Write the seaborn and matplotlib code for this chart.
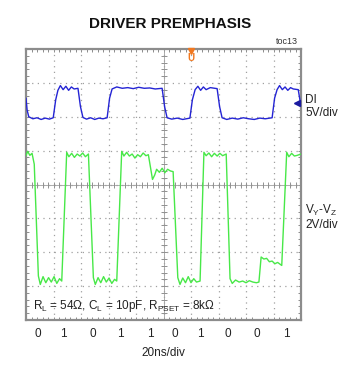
import numpy as np
import pandas as pd
import matplotlib
matplotlib.use("Agg")
import matplotlib.pyplot as plt
import seaborn as sns

sns.set_style("white")
plt.rcParams['font.family'] = ['Liberation Sans Narrow', 'Liberation Sans', 'DejaVu Sans']

# ---- data (time in divisions of 20 ns, amplitude in vertical divisions) ----
bits = ["0", "1", "0", "1", "1", "0", "1", "0", "0", "1"]
bit_pos = [0.44, 1.35, 2.44, 3.42, 4.51, 5.42, 6.33, 7.35, 8.4, 9.45]

di_t = [0.00, 0.04, 0.10, 0.25, 0.40, 0.55, 0.70, 0.85, 0.99,
        1.08, 1.16, 1.25, 1.35, 1.45, 1.55, 1.65, 1.75, 1.89,
        1.98, 2.07, 2.20, 2.35, 2.50, 2.65, 2.80, 2.95,
        3.04, 3.13, 3.30, 3.50, 3.70, 3.90, 4.10, 4.30, 4.50, 4.70, 4.95,
        5.04, 5.13, 5.30, 5.50, 5.70, 5.96,
        6.05, 6.15, 6.25, 6.35, 6.45, 6.55, 6.70, 6.95,
        7.04, 7.13, 7.30, 7.50, 7.70, 7.90, 8.10, 8.30, 8.50, 8.70, 8.95,
        9.04, 9.13, 9.22, 9.32, 9.42, 9.52, 9.62, 9.72, 9.90, 9.96, 10.0]
di_v = [2.55, 2.20, 2.00, 1.94, 1.97, 1.92, 1.96, 1.93, 1.97,
        2.50, 2.78, 2.92, 2.80, 2.90, 2.78, 2.88, 2.82, 2.84,
        2.30, 1.98, 1.93, 1.97, 1.92, 1.96, 1.94, 1.97,
        2.55, 2.82, 2.88, 2.84, 2.86, 2.83, 2.87, 2.84, 2.85, 2.82, 2.84,
        2.30, 1.97, 1.93, 1.96, 1.92, 1.96,
        2.50, 2.80, 2.90, 2.78, 2.88, 2.80, 2.86, 2.83,
        2.30, 1.97, 1.92, 1.96, 1.93, 1.97, 1.94, 1.92, 1.96, 1.94, 1.97,
        2.55, 2.80, 2.92, 2.80, 2.88, 2.78, 2.86, 2.82, 2.80, 2.50, 2.40]

vyz_t = [0.00, 0.06, 0.14, 0.22, 0.30, 0.45, 0.52, 0.62, 0.72, 0.82, 0.92, 1.02, 1.12, 1.22, 1.30,
         1.48, 1.56, 1.66, 1.76, 1.86, 1.96, 2.06, 2.16, 2.27,
         2.45, 2.52, 2.62, 2.72, 2.82, 2.92, 3.02, 3.12, 3.22, 3.30,
         3.48, 3.56, 3.66, 3.76, 3.86, 3.96, 4.06, 4.16, 4.26, 4.36, 4.45,
         4.60, 4.68, 4.75, 4.85, 4.95, 5.05, 5.15, 5.25, 5.35,
         5.52, 5.60, 5.70, 5.80, 5.90, 6.00, 6.10, 6.20, 6.33,
         6.47, 6.55, 6.65, 6.75, 6.85, 6.95, 7.05, 7.15, 7.28,
         7.42, 7.50, 7.62, 7.75, 7.88, 8.00, 8.12, 8.25, 8.38, 8.47,
         8.55, 8.65, 8.75, 8.85, 8.95, 9.05, 9.15, 9.30,
         9.48, 9.56, 9.66, 9.76, 9.86, 10.0]
vyz_v = [0.85, 0.98, 0.86, 0.92, 0.60, -2.70, -2.95, -2.72, -2.90, -2.75, -2.88, -2.72, -2.92, -2.78, -2.85,
         0.95, 0.82, 0.92, 0.80, 0.90, 0.84, 0.93, 0.82, 0.90,
         -2.75, -2.95, -2.75, -2.90, -2.72, -2.88, -2.76, -2.92, -2.80, -2.85,
         0.98, 0.84, 0.95, 0.84, 0.90, 0.78, 0.88, 0.82, 0.93, 0.85, 0.88,
         0.15, 0.28, 0.45, 0.36, 0.48, 0.35, 0.45, 0.40, 0.38,
         -2.75, -2.95, -2.76, -2.90, -2.72, -2.90, -2.78, -2.88, -2.85,
         0.95, 0.85, 0.93, 0.82, 0.92, 0.84, 0.92, 0.85, 0.90,
         -2.78, -2.92, -2.82, -2.88, -2.85, -2.90, -2.84, -2.88, -2.90, -2.88,
         -2.14, -2.20, -2.18, -2.28, -2.26, -2.34, -2.30, -2.39,
         0.95, 0.82, 0.92, 0.84, 0.86, 0.90]

trigger_t = 6.0
di_ground = 2.4

blue = "#2424d4"
green = "#48e848"
frame = "#8c8c8c"

fig = plt.figure(figsize=(3.5, 3.72), dpi=100)
W, H = 350, 372
L, R, T, B = 26, 301, 49, 320
ax = fig.add_axes([L / W, 1 - B / H, (R - L) / W, (B - T) / H])
ax.set_xlim(0, 10)
ax.set_ylim(-4, 4)

# graticule
for gx in range(1, 10):
    ax.axvline(gx, color="#a0a0a0", lw=0.9, ls=(0, (1, 3.5)), zorder=1)
for gy in range(-3, 4):
    ax.axhline(gy, color="#a0a0a0", lw=0.9, ls=(0, (1, 3.5)), zorder=1)
ax.axhline(0, color="#a0a0a0", lw=0.6, zorder=1)
ax.axvline(5, color="#a0a0a0", lw=0.6, zorder=1)
tx = np.arange(0.2, 10, 0.2)
ty = np.arange(-3.8, 4, 0.2)
ax.plot(tx, np.zeros_like(tx), ls="none", marker="|", ms=4, mew=0.7, color="#909090", zorder=1)
ax.plot(np.full_like(ty, 5.0), ty, ls="none", marker="_", ms=4, mew=0.7, color="#909090", zorder=1)

df_di = pd.DataFrame({"t": di_t, "v": di_v})
df_yz = pd.DataFrame({"t": vyz_t, "v": vyz_v})
sns.lineplot(data=df_di, x="t", y="v", ax=ax, color=blue, lw=1.0, estimator=None, sort=False, zorder=3)
sns.lineplot(data=df_yz, x="t", y="v", ax=ax, color=green, lw=1.0, estimator=None, sort=False, zorder=3)

# markers
ax.plot([trigger_t], [3.93], marker="v", ms=4, color="#f07820", clip_on=False, zorder=4)
ax.text(trigger_t, 3.72, "U", color="#f07820", fontsize=7, fontweight="bold", ha="center", va="center", zorder=4)
ax.plot([9.82, 10.0], [di_ground, di_ground], color="#1a1aa0", lw=1.0, zorder=4)
ax.plot([9.86], [di_ground], marker="<", ms=4, color="#1a1aa0", zorder=4)

# frame and edge ticks
for s in ax.spines.values():
    s.set_color(frame)
    s.set_linewidth(1.6)
ax.set_xticks(bit_pos, bits)
ax.set_yticks([])
ax.set_xticks(np.arange(0, 10.01, 0.2), minor=True)
ax.set_yticks(np.arange(-4, 4.01, 0.2), minor=True)
ax.tick_params(axis="x", which="major", length=0, pad=6, labelsize=8.5, colors="#222222")
ax.tick_params(which="minor", direction="in", length=2.5, width=0.7, color=frame,
               top=True, bottom=True, left=True, right=True)
ax.set_xlabel("20ns/div", fontsize=8.5, labelpad=5, color="#222222")
ax.set_ylabel("")

# texts
fig.text(170 / W, 1 - 24 / H, "DRIVER PREMPHASIS", ha="center", va="center",
         fontsize=11, fontweight="bold", color="#111111")
fig.text(287 / W, 1 - 41 / H, "toc13", ha="center", va="center", fontsize=6.5, color="#333333")
fig.text(305 / W, 1 - 100 / H, "DI", ha="left", va="center", fontsize=8.5, color="#222222")
fig.text(305 / W, 1 - 113 / H, "5V/div", ha="left", va="center", fontsize=8.5, color="#222222")
fig.text(305 / W, 1 - 210 / H, r"V$_\mathregular{Y}$-V$_\mathregular{Z}$", ha="left", va="center",
         fontsize=8.5, color="#222222")
fig.text(305 / W, 1 - 225 / H, "2V/div", ha="left", va="center", fontsize=8.5, color="#222222")
ax.text(0.25, -3.6,
        r"R$_\mathregular{L}$ = 54Ω, C$_\mathregular{L}$ = 10pF, R$_\mathregular{PSET}$ = 8kΩ",
        ha="left", va="center", fontsize=8.5, color="#222222", zorder=5)

fig.savefig("out.png", dpi=100, facecolor="white")
